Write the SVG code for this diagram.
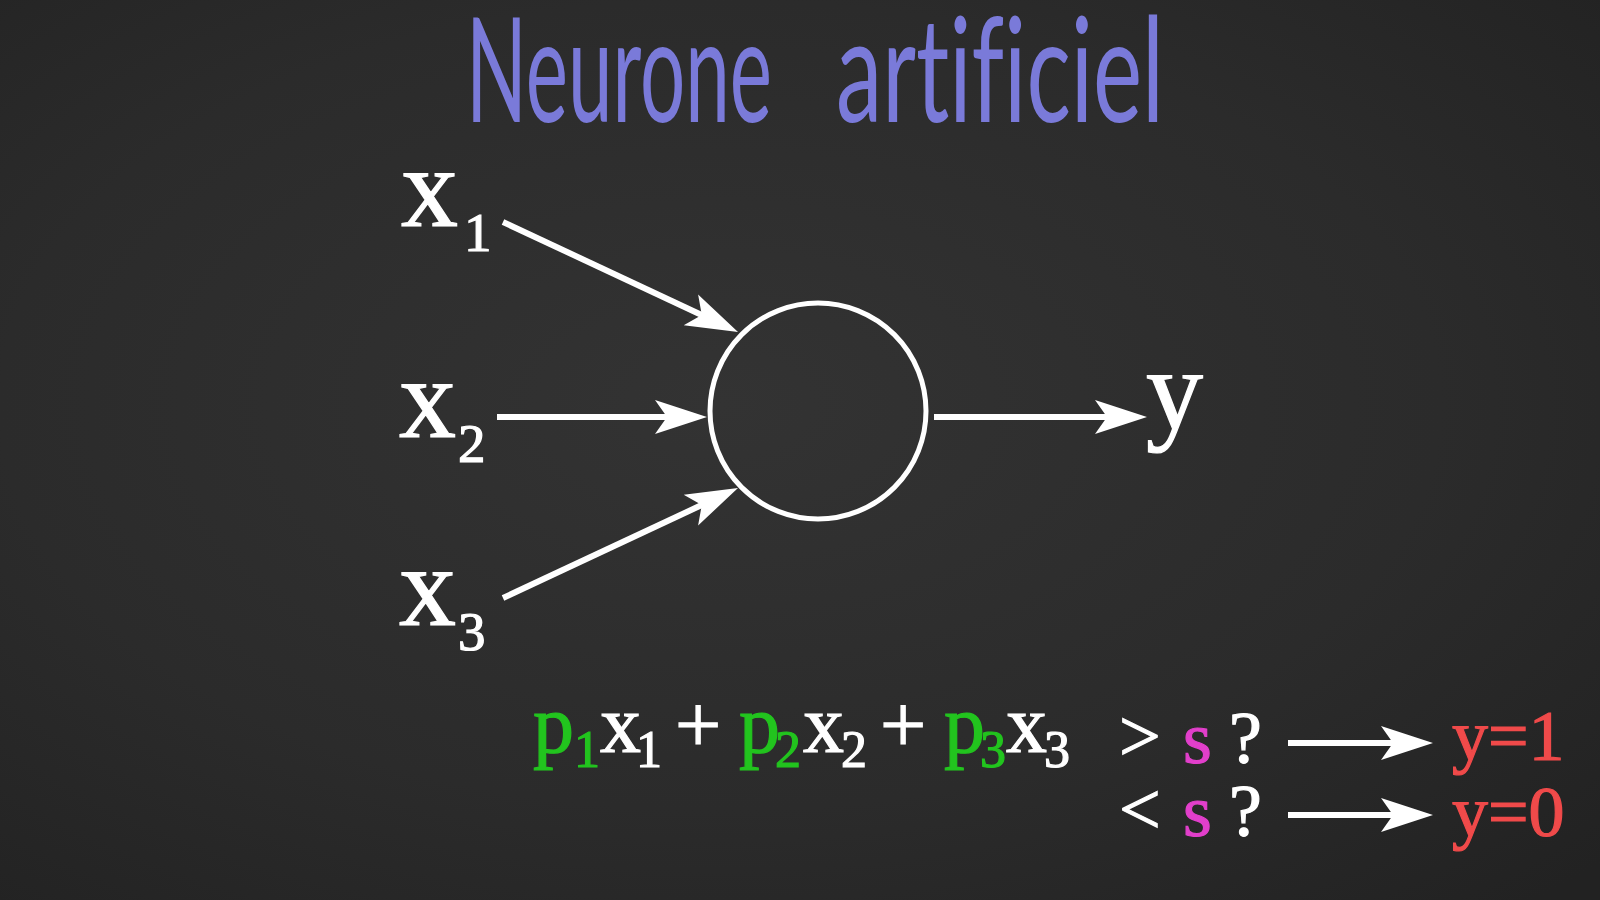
<svg xmlns="http://www.w3.org/2000/svg" width="1600" height="900" viewBox="0 0 1600 900">
  <defs>
    <radialGradient id="board" cx="45%" cy="45%" r="75%">
      <stop offset="0" stop-color="#333333"/>
      <stop offset="0.6" stop-color="#2b2b2b"/>
      <stop offset="1" stop-color="#222222"/>
    </radialGradient>
    <marker id="head" viewBox="0 0 60 40" markerWidth="60" markerHeight="40" refX="20" refY="20" orient="auto" markerUnits="userSpaceOnUse">
      <path d="M 56 20 L 4 3 L 16 20 L 4 37 Z" fill="#ffffff"/>
    </marker>
  </defs>
  <style>
    .serif { font-family: "Liberation Serif", "Times New Roman", serif; stroke-width: 1.2; }
    .white { fill: #ffffff; stroke: #ffffff; }
    .green { fill: #22c41e; stroke: #22c41e; }
    .mag { fill: #e23fcb; stroke: #e23fcb; }
    .red { fill: #f04a4a; stroke: #f04a4a; }
    .var { font-size: 114px; }
    .sub { font-size: 55px; }
    .eq { font-size: 82px; }
    .eqsub { font-size: 52px; }
    .cond { font-size: 74px; }
    .res { font-size: 72px; }
    .title { font-family: Lato, "Open Sans", sans-serif; font-weight: 400; font-size: 145px; fill: #7a7ad9; font-variant-ligatures: none; }
    .arrow { stroke: #ffffff; stroke-width: 6; fill: none; marker-end: url(#head); }
  </style>

  <rect width="1600" height="900" fill="url(#board)"/>

  <g id="title">
    <text class="title" x="466" y="122" textLength="306" lengthAdjust="spacingAndGlyphs">Neurone</text>
    <text class="title" x="836" y="122" textLength="328" lengthAdjust="spacingAndGlyphs">artificiel</text>
  </g>

  <g id="input-x1" class="serif white">
    <text class="var" x="401" y="226">x</text>
    <text class="sub" x="464" y="251">1</text>
  </g>
  <g id="input-x2" class="serif white">
    <text class="var" x="399" y="437">x</text>
    <text class="sub" x="458" y="462">2</text>
  </g>
  <g id="input-x3" class="serif white">
    <text class="var" x="399" y="625">x</text>
    <text class="sub" x="458" y="650">3</text>
  </g>

  <g id="neuron">
    <circle cx="818" cy="411" r="108" fill="none" stroke="#ffffff" stroke-width="5"/>
  </g>

  <g id="output-y" class="serif white">
    <text class="var" x="1146" y="429">y</text>
  </g>

  <g id="connectors">
    <line class="arrow" x1="503" y1="222" x2="705.4" y2="316.7"/>
    <line class="arrow" x1="497" y1="417" x2="671" y2="417"/>
    <line class="arrow" x1="503" y1="598" x2="705.4" y2="503.3"/>
    <line class="arrow" x1="934" y1="417" x2="1111" y2="417"/>
    <line class="arrow" x1="1288" y1="743" x2="1397" y2="743"/>
    <line class="arrow" x1="1288" y1="815" x2="1397" y2="815"/>
  </g>

  <g id="equation" class="serif">
    <text class="eq green" x="533" y="752">p</text>
    <text class="eqsub green" x="574" y="767">1</text>
    <text class="eq white" x="600" y="752">x</text>
    <text class="eqsub white" x="636" y="767">1</text>
    <text class="eq white" x="675" y="752">+</text>
    <text class="eq green" x="739" y="752">p</text>
    <text class="eqsub green" x="775" y="767">2</text>
    <text class="eq white" x="803" y="752">x</text>
    <text class="eqsub white" x="841" y="767">2</text>
    <text class="eq white" x="880" y="752">+</text>
    <text class="eq green" x="944" y="752">p</text>
    <text class="eqsub green" x="980" y="767">3</text>
    <text class="eq white" x="1006" y="752">x</text>
    <text class="eqsub white" x="1044" y="767">3</text>
  </g>

  <g id="condition-greater" class="serif">
    <text class="cond white" x="1119" y="761">&gt;</text>
    <text class="cond mag" x="1183" y="763">s</text>
    <text class="cond white" x="1229" y="763">?</text>
    <text class="res red" x="1452" y="760">y=1</text>
  </g>
  <g id="condition-less" class="serif">
    <text class="cond white" x="1119" y="834">&lt;</text>
    <text class="cond mag" x="1183" y="836">s</text>
    <text class="cond white" x="1229" y="836">?</text>
    <text class="res red" x="1452" y="836">y=0</text>
  </g>
</svg>
